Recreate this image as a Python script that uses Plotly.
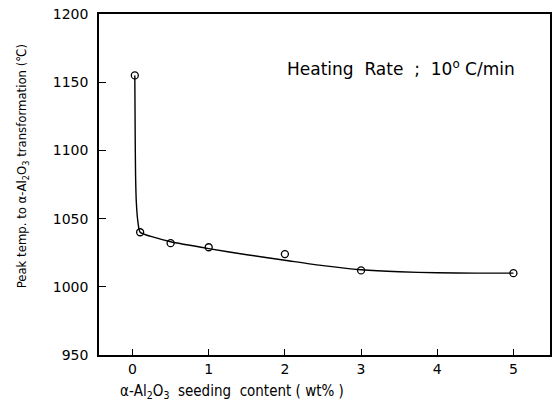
import plotly.graph_objects as go

# measured points
seed_wt = [0.03, 0.1, 0.5, 1.0, 2.0, 3.0, 5.0]
peak_temp = [1155, 1040, 1032, 1029, 1024, 1012, 1010]

# fitted curve
fit_x = [0.03, 0.035, 0.04, 0.05, 0.07, 0.1, 0.3, 0.5, 1.0, 1.5, 2.0, 2.5, 3.0, 3.5, 4.0, 4.5, 5.0]
fit_y = [1155, 1110, 1082, 1062, 1048, 1040, 1036, 1033, 1028, 1023.5, 1019.5, 1015.5, 1012.5, 1011, 1010.3, 1010, 1010]

x_ticks = [0, 1, 2, 3, 4, 5]
y_ticks = [950, 1000, 1050, 1100, 1150, 1200]

font_main = "DejaVu Sans, Liberation Sans, sans-serif"
font_narrow = "Liberation Sans Narrow, DejaVu Sans Condensed, Liberation Sans, sans-serif"

fig = go.Figure()
fig.add_trace(go.Scatter(x=fit_x, y=fit_y, mode="lines",
                         line=dict(color="black", width=1.4, shape="spline", smoothing=0.6),
                         showlegend=False, hoverinfo="skip"))
fig.add_trace(go.Scatter(x=seed_wt, y=peak_temp, mode="markers",
                         marker=dict(symbol="circle-open", size=7, color="black",
                                     line=dict(width=1.3, color="black")),
                         showlegend=False))

fig.update_layout(
    width=556, height=407,
    margin=dict(l=99, r=4, t=14, b=52),
    paper_bgcolor="white", plot_bgcolor="white",
    font=dict(family=font_main, size=13, color="black"),
    xaxis=dict(range=[-0.44, 5.48], tickvals=x_ticks, ticks="inside", ticklen=6,
               tickwidth=1.2, tickcolor="black", showline=True, linecolor="black",
               linewidth=1.5, mirror=True, showgrid=False, zeroline=False,
               tickfont=dict(size=14, family=font_main)),
    yaxis=dict(range=[950, 1200], tickvals=y_ticks, ticks="inside", ticklen=7,
               tickwidth=1.2, tickcolor="black", showline=True, linecolor="black",
               linewidth=1.5, mirror=True, showgrid=False, zeroline=False,
               tickfont=dict(size=14, family=font_main), ticklabelstandoff=6),
    annotations=[
        dict(text="Heating  Rate  ;  10<sup>o</sup> C/min", x=402, y=68, xref="paper", yref="paper",
             showarrow=False, font=dict(size=17, family=font_main)),
        dict(text="Peak temp. to α-Al<sub>2</sub>O<sub>3</sub> transformation (℃)",
             x=22, y=166, textangle=-90, showarrow=False,
             font=dict(size=13, family=font_narrow)),
        dict(text="α-Al<sub>2</sub>O<sub>3</sub>  seeding  content ( wt% )",
             x=233, y=392, showarrow=False, font=dict(size=15, family=font_narrow)),
    ],
)

# convert pixel-positioned annotations to paper coords
W, H = 556, 407
l, r, t, b = 99, 4, 14, 52
pw, ph = W - l - r, H - t - b
for a in fig.layout.annotations:
    a.x = (a.x - l) / pw
    a.y = 1 - (a.y - t) / ph
    a.xref = "paper"
    a.yref = "paper"
    a.xanchor = "center"
    a.yanchor = "middle"

fig.write_html("out.html")
